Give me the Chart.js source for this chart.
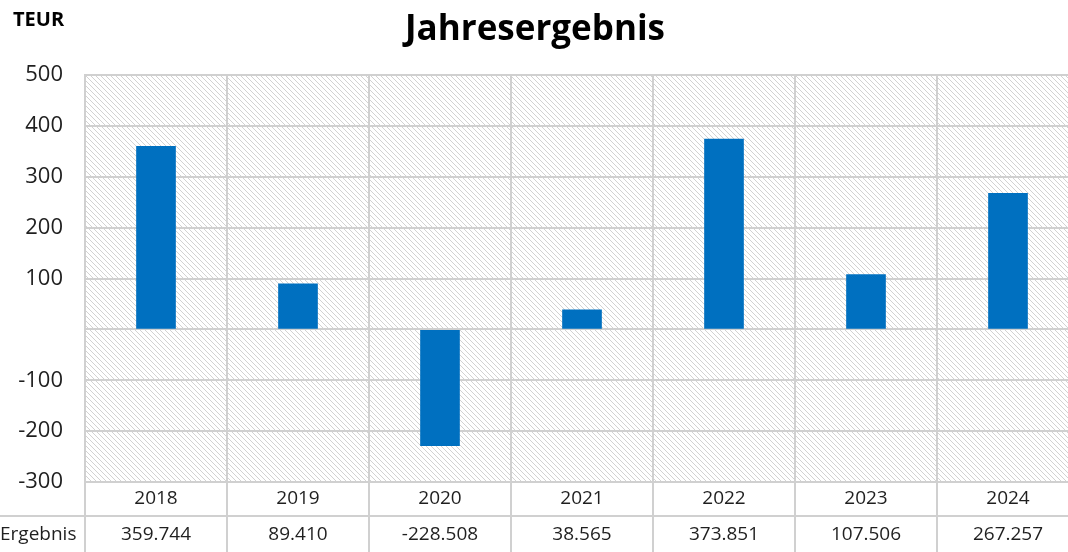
<!DOCTYPE html>
<html>
<head>
<meta charset="utf-8">
<script src="https://cdn.jsdelivr.net/npm/chart.js@4.4.1/dist/chart.umd.min.js"></script>
<style>
  html, body { margin: 0; padding: 0; background: #ffffff; overflow: hidden; }
  #wrap { width: 1080px; height: 552px; }
</style>
</head>
<body>
<div id="wrap"><canvas id="c" width="1080" height="552"></canvas></div>
<script>
const categories = ['2018', '2019', '2020', '2021', '2022', '2023', '2024'];
const ergebnis = [359.744, 89.410, -228.508, 38.565, 373.851, 107.506, 267.257];
const seriesName = 'Ergebnis';
const yTicks = [-300, -200, -100, 0, 100, 200, 300, 400, 500];
const titleText = 'Jahresergebnis';
const unitText = 'TEUR';

const FONT = '"Open Sans", "Liberation Sans", sans-serif';
const TEXT = '#1f1f1f';
const LINE = '#d0d0d0';

function makeHatch() {
  const s = 5;
  const t = document.createElement('canvas');
  t.width = s; t.height = s;
  const g = t.getContext('2d');
  g.fillStyle = '#ffffff';
  g.fillRect(0, 0, s, s);
  g.strokeStyle = '#d2d2d2';
  g.lineWidth = 1;
  for (const o of [-s, 0, s]) {
    g.beginPath();
    g.moveTo(o - 1, -1);
    g.lineTo(o + s + 1, s + 1);
    g.stroke();
  }
  return g.createPattern(t, 'repeat');
}

const decor = {
  id: 'decor',
  beforeDraw(chart) {
    const { ctx, chartArea: a } = chart;
    ctx.save();
    ctx.fillStyle = makeHatch();
    ctx.fillRect(a.left, a.top, a.right - a.left, a.bottom - a.top);
    ctx.restore();
  },
  afterDraw(chart) {
    const { ctx, chartArea: a } = chart;
    const x = chart.scales.x;
    ctx.save();
    // title
    ctx.fillStyle = '#000000';
    ctx.font = 'bold 35px ' + FONT;
    ctx.textAlign = 'center';
    ctx.textBaseline = 'alphabetic';
    ctx.fillText(titleText, 535, 40);
    ctx.font = 'bold 20px ' + FONT;
    ctx.textAlign = 'left';
    ctx.fillText(unitText, 13, 26);
    // table lines
    ctx.strokeStyle = LINE;
    ctx.lineWidth = 2;
    const rowY = 516;
    ctx.beginPath();
    ctx.moveTo(0, rowY); ctx.lineTo(chart.width, rowY);
    ctx.moveTo(a.left, a.bottom); ctx.lineTo(chart.width, a.bottom);
    const step = (a.right - a.left) / categories.length;
    for (let i = 0; i <= categories.length; i++) {
      const lx = a.left + i * step;
      ctx.moveTo(lx, a.bottom); ctx.lineTo(lx, chart.height);
    }
    ctx.stroke();
    // values row
    ctx.fillStyle = TEXT;
    ctx.font = '19px ' + FONT;
    ctx.textBaseline = 'middle';
    ctx.textAlign = 'left';
    ctx.fillText(seriesName, 0, 535);
    ctx.textAlign = 'center';
    ergebnis.forEach((v, i) => {
      ctx.fillText(v.toFixed(3), x.getPixelForValue(i), 535);
    });
    ctx.restore();
  }
};

new Chart(document.getElementById('c'), {
  type: 'bar',
  data: {
    labels: categories,
    datasets: [{
      label: seriesName,
      data: ergebnis,
      backgroundColor: '#0070C0',
      borderWidth: 0,
      barThickness: 39
    }]
  },
  options: {
    responsive: false,
    animation: false,
    layout: { padding: { left: 0, top: 75, right: 1, bottom: 0 } },
    plugins: { legend: { display: false }, tooltip: { enabled: false } },
    scales: {
      x: {
        grid: { color: LINE, lineWidth: 2, drawTicks: false, offset: true },
        border: { color: LINE, width: 2 },
        ticks: { color: TEXT, font: { family: FONT, size: 19 }, padding: 5, maxRotation: 0 },
        afterFit(s) { s.height = 70; }
      },
      y: {
        min: -300, max: 500,
        afterBuildTicks(s) { s.ticks = yTicks.map(v => ({ value: v })); },
        grid: { color: LINE, lineWidth: 2, drawTicks: false },
        border: { color: LINE, width: 2 },
        ticks: {
          color: TEXT, font: { family: FONT, size: 22 }, padding: 22,
          callback: v => (v === 0 ? '' : String(v))
        },
        afterFit(s) { s.width = 85; }
      }
    }
  },
  plugins: [decor]
});
</script>
</body>
</html>
